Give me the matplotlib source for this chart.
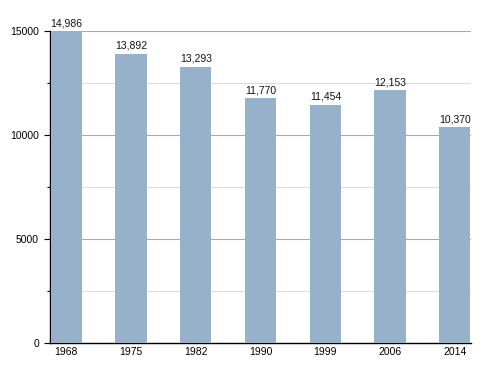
import matplotlib
matplotlib.use("Agg")
import matplotlib.pyplot as plt
from matplotlib.ticker import MultipleLocator

years = ["1968", "1975", "1982", "1990", "1999", "2006", "2014"]
population = [14986, 13892, 13293, 11770, 11454, 12153, 10370]

plt.rcParams['font.family'] = ['Liberation Sans', 'DejaVu Sans']

fig = plt.figure(figsize=(5, 3.73), dpi=100)
ax = fig.add_axes([0.1, 0.0804, 0.842, 0.8365])

x = list(range(len(years)))
bars = ax.bar(x, population, width=0.48, color="#97b1cb", zorder=3)

# etiquetas encima de las barras
for xi, v in zip(x, population):
    ax.text(xi, v + 150, f"{v:,}", ha="center", va="bottom", fontsize=7.5, color="#111111")

ax.set_xlim(-0.25, len(years) - 0.75)
ax.set_ylim(0, 15000)
ax.set_xticks(x)
ax.set_xticklabels(years)
ax.yaxis.set_major_locator(MultipleLocator(5000))
ax.yaxis.set_minor_locator(MultipleLocator(2500))

ax.grid(axis="y", which="major", color="#aaaaaa", linewidth=0.8, zorder=0)
ax.grid(axis="y", which="minor", color="#dddddd", linewidth=0.8, zorder=0)

for s in ["top", "right"]:
    ax.spines[s].set_visible(False)
ax.spines["left"].set_linewidth(1)
ax.spines["bottom"].set_linewidth(1)

ax.tick_params(axis="x", length=0, pad=3, labelsize=7.5)
ax.tick_params(axis="y", which="major", length=4, width=0.8, labelsize=7.5, pad=4)
ax.tick_params(axis="y", which="minor", length=2, width=0.8)

fig.savefig("out.png", dpi=100)
